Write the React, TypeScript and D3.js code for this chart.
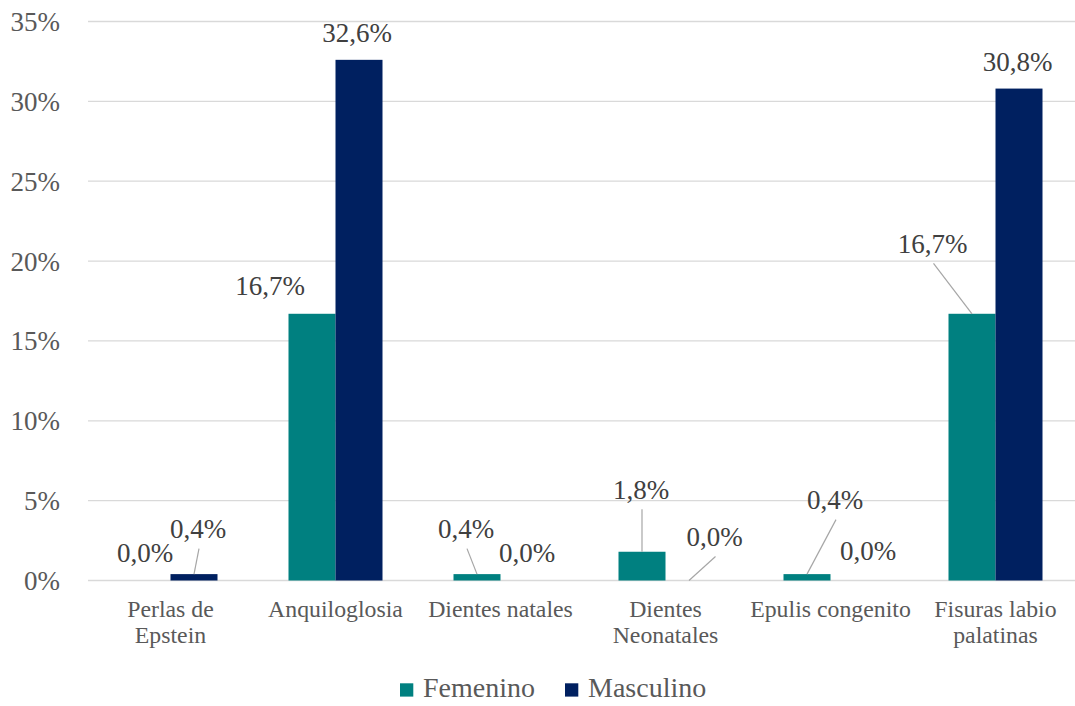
import React from "react";
import * as d3 from "d3";

const categories: string[][] = [
  ["Perlas de", "Epstein"],
  ["Anquiloglosia"],
  ["Dientes natales"],
  ["Dientes", "Neonatales"],
  ["Epulis congenito"],
  ["Fisuras labio", "palatinas"],
];
const femenino = [0.0, 16.7, 0.4, 1.8, 0.4, 16.7];
const masculino = [0.4, 32.6, 0.0, 0.0, 0.0, 30.8];
const yTicks = [0, 5, 10, 15, 20, 25, 30, 35];
const seriesNames = ["Femenino", "Masculino"];

// label offsets relative to bar top-centre [dx, dy(baseline), leader]
const femLabelOffsets: [number, number, boolean][] = [
  [-2, -19, false],
  [-42, -19, false],
  [-11, -36, true],
  [-1, -53, true],
  [28, -65, true],
  [-39.5, -61, true],
];
const mascLabelOffsets: [number, number, boolean][] = [
  [4, -36, true],
  [-2, -18, false],
  [3, -19, false],
  [25.5, -34.5, true],
  [14, -20.5, false],
  [-1.5, -18, false],
];

const W = 1075;
const H = 706;
const left = 88;
const right = 1078;
const top = 21.5;
const bottom = 580.5;
const colors = ["#008080", "#002060"];
const FONT = "Liberation Serif, Times New Roman, serif";

export default function App() {
  const x = d3
    .scaleBand<number>()
    .domain(d3.range(categories.length))
    .range([left, right])
    .paddingInner(0)
    .paddingOuter(0);
  const y = d3.scaleLinear().domain([0, 35]).range([bottom, top]);
  const barW = 47;
  const fmt = (v: number) => v.toFixed(1).replace(".", ",") + "%";

  const series = [femenino, masculino];
  const offsets = [femLabelOffsets, mascLabelOffsets];

  return (
    <svg
      width={W}
      height={H}
      style={{ position: "absolute", left: 0, top: 0, background: "#fff", fontFamily: FONT }}
    >
      <rect width={W} height={H} fill="#fff" />
      {yTicks.map((t) => (
        <g key={t}>
          <line
            x1={left}
            x2={W}
            y1={y(t)}
            y2={y(t)}
            stroke="#d9d9d9"
            strokeWidth={1.3}
          />
          <text
            x={60}
            y={y(t) + 9.5}
            textAnchor="end"
            fontSize={27}
            fill="#595959"
          >
            {t}%
          </text>
        </g>
      ))}
      {series.map((vals, si) =>
        vals.map((v, i) => {
          const cx = x(i)! + x.bandwidth() / 2;
          const bx = si === 0 ? cx - barW : cx;
          return (
            <rect
              key={`b${si}-${i}`}
              x={bx}
              y={y(v)}
              width={barW}
              height={bottom - y(v)}
              fill={colors[si]}
            />
          );
        })
      )}
      {series.map((vals, si) =>
        vals.map((v, i) => {
          const cx = x(i)! + x.bandwidth() / 2;
          const bcx = si === 0 ? cx - barW / 2 : cx + barW / 2;
          const by = y(v);
          const [dx, dy, leader] = offsets[si][i];
          const lx = bcx + dx;
          const ly = by + dy;
          return (
            <g key={`l${si}-${i}`}>
              {leader && (
                <line
                  x1={lx + 1}
                  y1={ly + 10.5}
                  x2={bcx}
                  y2={by}
                  stroke="#a6a6a6"
                  strokeWidth={1.2}
                />
              )}
              <text
                x={lx}
                y={ly}
                textAnchor="middle"
                fontSize={27}
                fill="#404040"
              >
                {fmt(v)}
              </text>
            </g>
          );
        })
      )}
      {categories.map((lines, i) => {
        const cx = x(i)! + x.bandwidth() / 2;
        return (
          <text
            key={`c${i}`}
            x={cx}
            y={616.7}
            textAnchor="middle"
            fontSize={23.8}
            fill="#595959"
          >
            {lines.map((ln, k) => (
              <tspan key={k} x={cx} dy={k === 0 ? 0 : 26.7}>
                {ln}
              </tspan>
            ))}
          </text>
        );
      })}
      {seriesNames.map((name, si) => {
        const lx = si === 0 ? 400 : 565;
        return (
          <g key={name}>
            <rect x={lx} y={683.3} width={13.3} height={13.3} fill={colors[si]} />
            <text x={lx + 23} y={697} fontSize={28} fill="#595959">
              {name}
            </text>
          </g>
        );
      })}
    </svg>
  );
}
